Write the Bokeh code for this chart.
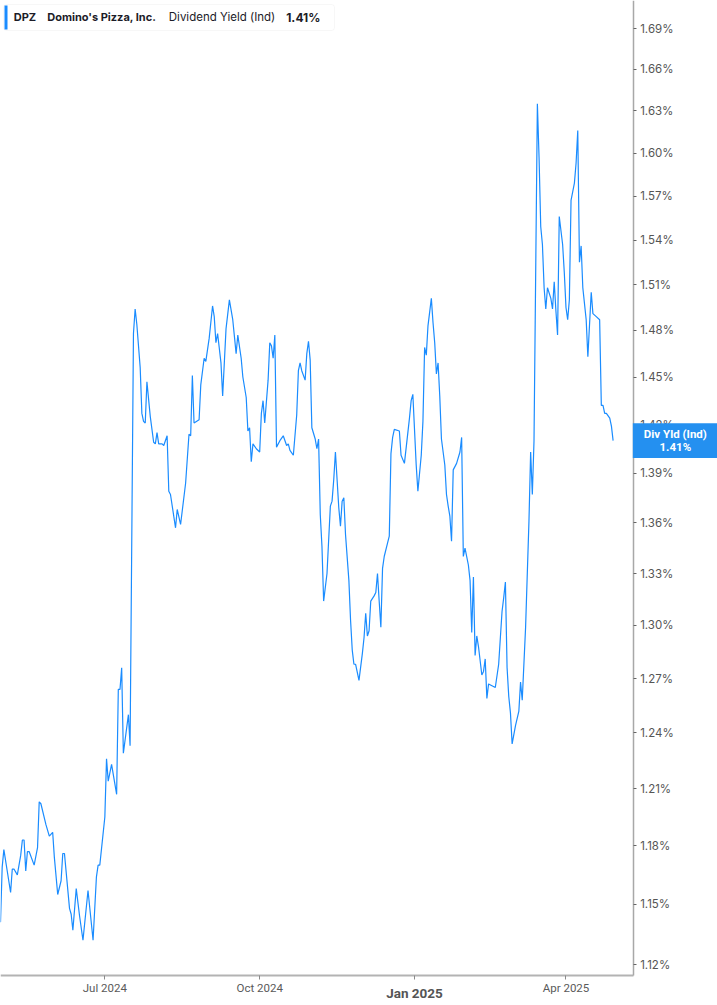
import math
import pandas as pd
from datetime import datetime, timedelta
from bokeh.plotting import figure
from bokeh.models import FixedTicker, Label, BoxAnnotation, Range1d, ColumnDataSource
from bokeh.embed import file_html
from bokeh.resources import INLINE

# ---------------- data ----------------
dates = [
    "2024-04-30", "2024-05-01", "2024-05-02", "2024-05-04", "2024-05-06", "2024-05-07", "2024-05-08",
    "2024-05-10", "2024-05-12", "2024-05-13", "2024-05-14", "2024-05-15", "2024-05-16", "2024-05-17",
    "2024-05-20", "2024-05-22", "2024-05-23", "2024-05-24", "2024-05-27", "2024-05-29", "2024-05-31",
    "2024-06-01", "2024-06-03", "2024-06-05", "2024-06-06", "2024-06-07", "2024-06-10", "2024-06-11",
    "2024-06-12", "2024-06-14", "2024-06-16", "2024-06-18", "2024-06-21", "2024-06-24", "2024-06-26",
    "2024-06-27", "2024-06-28", "2024-07-01", "2024-07-02", "2024-07-03", "2024-07-05", "2024-07-08",
    "2024-07-09", "2024-07-10", "2024-07-11", "2024-07-12", "2024-07-15", "2024-07-16", "2024-07-18",
    "2024-07-19", "2024-07-20", "2024-07-22", "2024-07-23", "2024-07-24", "2024-07-25", "2024-07-26",
    "2024-07-28", "2024-07-30", "2024-07-31", "2024-08-01", "2024-08-02", "2024-08-04", "2024-08-05",
    "2024-08-07", "2024-08-08", "2024-08-09", "2024-08-12", "2024-08-13", "2024-08-15", "2024-08-18",
    "2024-08-20", "2024-08-21", "2024-08-22", "2024-08-23", "2024-08-26", "2024-08-27", "2024-08-29",
    "2024-08-30", "2024-09-01", "2024-09-03", "2024-09-04", "2024-09-05", "2024-09-06", "2024-09-08",
    "2024-09-09", "2024-09-11", "2024-09-13", "2024-09-15", "2024-09-16", "2024-09-17", "2024-09-18",
    "2024-09-20", "2024-09-21", "2024-09-23", "2024-09-24", "2024-09-25", "2024-09-26", "2024-09-27",
    "2024-09-29", "2024-10-01", "2024-10-02", "2024-10-03", "2024-10-04", "2024-10-06", "2024-10-07",
    "2024-10-08", "2024-10-09", "2024-10-10", "2024-10-11", "2024-10-13", "2024-10-15", "2024-10-17",
    "2024-10-18", "2024-10-19", "2024-10-21", "2024-10-23", "2024-10-24", "2024-10-25", "2024-10-26",
    "2024-10-28", "2024-10-29", "2024-10-30", "2024-10-31", "2024-11-01", "2024-11-03", "2024-11-04",
    "2024-11-05", "2024-11-06", "2024-11-07", "2024-11-08", "2024-11-10", "2024-11-11", "2024-11-12",
    "2024-11-13", "2024-11-14", "2024-11-15", "2024-11-16", "2024-11-17", "2024-11-18", "2024-11-19",
    "2024-11-20", "2024-11-21", "2024-11-23", "2024-11-24", "2024-11-25", "2024-11-26", "2024-11-27",
    "2024-11-29", "2024-12-01", "2024-12-02", "2024-12-03", "2024-12-04", "2024-12-05", "2024-12-06",
    "2024-12-08", "2024-12-09", "2024-12-10", "2024-12-11", "2024-12-12", "2024-12-13", "2024-12-14",
    "2024-12-16", "2024-12-17", "2024-12-18", "2024-12-19", "2024-12-20", "2024-12-23", "2024-12-24",
    "2024-12-26", "2024-12-29", "2024-12-30", "2024-12-31", "2025-01-02", "2025-01-03", "2025-01-05",
    "2025-01-06", "2025-01-07", "2025-01-08", "2025-01-09", "2025-01-11", "2025-01-12", "2025-01-13",
    "2025-01-14", "2025-01-15", "2025-01-16", "2025-01-17", "2025-01-19", "2025-01-20", "2025-01-21",
    "2025-01-22", "2025-01-23", "2025-01-24", "2025-01-26", "2025-01-28", "2025-01-29", "2025-01-30",
    "2025-01-31", "2025-02-02", "2025-02-03", "2025-02-04", "2025-02-05", "2025-02-06", "2025-02-07",
    "2025-02-08", "2025-02-10", "2025-02-11", "2025-02-12", "2025-02-13", "2025-02-14", "2025-02-16",
    "2025-02-18", "2025-02-20", "2025-02-22", "2025-02-23", "2025-02-24", "2025-02-25", "2025-02-26",
    "2025-02-27", "2025-02-28", "2025-03-02", "2025-03-04", "2025-03-05", "2025-03-06", "2025-03-08",
    "2025-03-10", "2025-03-11", "2025-03-12", "2025-03-13", "2025-03-15", "2025-03-16", "2025-03-17",
    "2025-03-18", "2025-03-19", "2025-03-20", "2025-03-21", "2025-03-23", "2025-03-24", "2025-03-25",
    "2025-03-26", "2025-03-27", "2025-03-28", "2025-03-30", "2025-03-31", "2025-04-01", "2025-04-02",
    "2025-04-03", "2025-04-04", "2025-04-06", "2025-04-07", "2025-04-08", "2025-04-09", "2025-04-10",
    "2025-04-11", "2025-04-13", "2025-04-14", "2025-04-15", "2025-04-16", "2025-04-17", "2025-04-19",
    "2025-04-21", "2025-04-22", "2025-04-23", "2025-04-24", "2025-04-25", "2025-04-27", "2025-04-28",
    "2025-04-29",
]
yield_pct = [
    1.141, 1.169, 1.178, 1.167, 1.156, 1.168, 1.168,
    1.165, 1.175, 1.183, 1.183, 1.167, 1.177, 1.177,
    1.170, 1.179, 1.203, 1.202, 1.191, 1.185, 1.187,
    1.174, 1.155, 1.162, 1.176, 1.176, 1.148, 1.145,
    1.137, 1.158, 1.144, 1.132, 1.157, 1.132, 1.164,
    1.170, 1.170, 1.195, 1.226, 1.214, 1.223, 1.207,
    1.264, 1.264, 1.276, 1.229, 1.250, 1.233, 1.478,
    1.494, 1.484, 1.456, 1.427, 1.422, 1.421, 1.447,
    1.425, 1.409, 1.408, 1.415, 1.408, 1.408, 1.407,
    1.413, 1.379, 1.377, 1.357, 1.368, 1.359, 1.384,
    1.414, 1.413, 1.451, 1.421, 1.423, 1.445, 1.462,
    1.460, 1.475, 1.496, 1.489, 1.472, 1.478, 1.459,
    1.438, 1.481, 1.500, 1.487, 1.476, 1.465, 1.477,
    1.462, 1.450, 1.437, 1.416, 1.418, 1.397, 1.408,
    1.405, 1.403, 1.427, 1.435, 1.421, 1.448, 1.472,
    1.470, 1.462, 1.477, 1.406, 1.410, 1.413, 1.407,
    1.408, 1.404, 1.401, 1.426, 1.454, 1.459, 1.454,
    1.448, 1.465, 1.473, 1.461, 1.418, 1.411, 1.405,
    1.411, 1.365, 1.346, 1.314, 1.330, 1.350, 1.370,
    1.373, 1.386, 1.403, 1.386, 1.369, 1.358, 1.373,
    1.375, 1.353, 1.326, 1.303, 1.286, 1.278, 1.278,
    1.269, 1.284, 1.293, 1.307, 1.294, 1.297, 1.314,
    1.317, 1.319, 1.330, 1.314, 1.299, 1.333, 1.340,
    1.348, 1.352, 1.402, 1.412, 1.417, 1.416, 1.401,
    1.396, 1.424, 1.435, 1.439, 1.395, 1.379, 1.401,
    1.422, 1.469, 1.464, 1.483, 1.501, 1.485, 1.472,
    1.452, 1.459, 1.438, 1.411, 1.395, 1.377, 1.370,
    1.364, 1.349, 1.392, 1.396, 1.403, 1.412, 1.340,
    1.345, 1.335, 1.326, 1.296, 1.328, 1.283, 1.294,
    1.288, 1.272, 1.274, 1.281, 1.259, 1.267, 1.266,
    1.265, 1.278, 1.308, 1.316, 1.325, 1.276, 1.260,
    1.251, 1.234, 1.244, 1.252, 1.268, 1.258, 1.299,
    1.361, 1.403, 1.377, 1.410, 1.635, 1.597, 1.549,
    1.537, 1.508, 1.494, 1.508, 1.501, 1.494, 1.512,
    1.493, 1.477, 1.556, 1.537, 1.518, 1.495, 1.487,
    1.500, 1.567, 1.579, 1.593, 1.616, 1.525, 1.536,
    1.508, 1.487, 1.463, 1.484, 1.505, 1.491, 1.489,
    1.487, 1.432, 1.432, 1.427, 1.427, 1.424, 1.419,
    1.410,
]

x_tick_dates = ["2024-07-01", "2024-10-01", "2025-01-01", "2025-04-01"]
x_tick_labels = ["Jul 2024", "Oct 2024", "Jan 2025", "Apr 2025"]
x_tick_is_year = [False, False, True, False]

y_ticks = [1.12, 1.15, 1.18, 1.21, 1.24, 1.27, 1.30, 1.33, 1.36, 1.39,
           1.42, 1.45, 1.48, 1.51, 1.54, 1.57, 1.60, 1.63, 1.66, 1.69]
y_tick_labels = ["1.12%", "1.15%", "1.18%", "1.21%", "1.24%", "1.27%", "1.30%", "1.33%", "1.36%", "1.39%",
                 "1.42%", "1.45%", "1.48%", "1.51%", "1.54%", "1.57%", "1.60%", "1.63%", "1.66%", "1.69%"]

ticker_symbol = "DPZ"
company = "Domino's Pizza, Inc."
metric = "Dividend Yield (Ind)"
metric_short = "Div Yld (Ind)"

# ---------------- layout / scales ----------------
LINE = "#1a8cff"
BOX = "#2490f0"
W, H = 717, 1005
AX_X, AX_Y = 632.7, 974.7          # where the y axis and x axis lines sit (px)
PX_PER_DAY = 1.683
PX_PER_LOG = 2275.0
REF_V, REF_Y = 1.12, 964.0          # 1.12 % tick position

def ms(d):
    return (pd.Timestamp(d) - pd.Timestamp("1970-01-01")) // pd.Timedelta("1ms")

def v_at(py):
    return REF_V * math.exp((REF_Y - py) / PX_PER_LOG)

x0 = datetime(2024, 4, 30)
x_end = x0 + timedelta(days=W / PX_PER_DAY)
x_axis_pos = x0 + timedelta(days=AX_X / PX_PER_DAY)
x_axis_ms = ms(x_axis_pos)

src = ColumnDataSource(dict(date=pd.to_datetime(dates), value=yield_pct))

p = figure(width=W, height=H, x_axis_type="datetime", y_axis_type="log",
           y_axis_location="right",
           x_range=Range1d(x0, x_end), y_range=Range1d(v_at(H), v_at(0)),
           toolbar_location=None, output_backend="svg",
           min_border_left=0, min_border_top=0, min_border_right=0, min_border_bottom=0)
p.outline_line_color = None
p.xgrid.visible = False
p.ygrid.visible = False
p.background_fill_color = "white"
p.border_fill_color = "white"

p.line(x="date", y="value", source=src, line_color=LINE, line_width=1.2)

# bottom axis (drawn at a fixed location inside the canvas)
xa = p.xaxis[0]
xa.fixed_location = v_at(AX_Y)
xa.bounds = (ms(x0), x_axis_ms)
xa.ticker = FixedTicker(ticks=[ms(d) for d in x_tick_dates], minor_ticks=[])
xa.major_label_overrides = {ms(d): ("" if yr else lab)
                            for d, lab, yr in zip(x_tick_dates, x_tick_labels, x_tick_is_year)}
xa.axis_line_color = "#b3b3b3"
xa.axis_line_width = 2
xa.major_tick_out = 4
xa.major_tick_in = 0
xa.major_tick_line_color = "#8a8a8a"
xa.minor_tick_line_color = None
xa.major_label_text_font = "Roboto"
xa.major_label_text_font_size = "11.5px"
xa.major_label_text_color = "#5a5a5a"
xa.major_label_standoff = 2

# right axis
ya = p.yaxis[0]
ya.fixed_location = x_axis_ms
ya.bounds = (v_at(AX_Y), v_at(0))
ya.ticker = FixedTicker(ticks=y_ticks, minor_ticks=[])
ya.major_label_overrides = {v: lab for v, lab in zip(y_ticks, y_tick_labels)}
ya.axis_line_color = "#a8a8a8"
ya.axis_line_width = 1.5
ya.major_tick_out = 3
ya.major_tick_in = 0
ya.major_tick_line_color = "#666666"
ya.minor_tick_line_color = None
ya.major_label_text_font = "Inter"
ya.major_label_text_font_size = "11.5px"
ya.major_label_text_color = "#555555"
ya.major_label_standoff = 4

# bold year label under its tick
for d, lab, yr in zip(x_tick_dates, x_tick_labels, x_tick_is_year):
    if yr:
        p.add_layout(Label(x=pd.Timestamp(d).to_pydatetime(), y=H - 992.0, x_units="data", y_units="screen",
                           text=lab, text_align="center", text_baseline="alphabetic",
                           text_font="Roboto", text_font_style="bold", text_font_size="13.5px",
                           text_color="#555555"))

# last value tag on the axis
p.add_layout(Label(x=(AX_X + W) / 2, y=yield_pct[-1], x_units="screen", y_units="data",
                   text=f"{metric_short}\n{yield_pct[-1]:.2f}%", text_align="center",
                   text_baseline="middle", text_font="Roboto", text_font_style="bold",
                   text_font_size="11.5px", text_color="white", text_line_height=0.9,
                   background_fill_color=BOX, padding=(11, 4)))

# legend box (top-left)
p.add_layout(BoxAnnotation(left=3, right=334, top=H - 4, bottom=H - 30,
                           left_units="screen", right_units="screen",
                           top_units="screen", bottom_units="screen",
                           fill_color="white", fill_alpha=1.0,
                           line_color="#e3e3e3", line_width=1, border_radius=3))
p.add_layout(BoxAnnotation(left=4, right=7, top=H - 5, bottom=H - 29,
                           left_units="screen", right_units="screen",
                           top_units="screen", bottom_units="screen",
                           fill_color=LINE, fill_alpha=1.0, line_color=None))
legend_parts = [ticker_symbol, company, metric, f"{yield_pct[-1]:.2f}%"]
legend_x = [13.3, 46.7, 168.3, 285.7]
legend_style = ["bold", "bold", "normal", "bold"]
legend_size = ["11px", "11px", "11.5px", "12px"]
for txt, lx, st, sz in zip(legend_parts, legend_x, legend_style, legend_size):
    p.add_layout(Label(x=lx, y=H - 16.5, x_units="screen", y_units="screen", text=txt,
                       text_align="left", text_baseline="middle", text_font="Inter",
                       text_font_style=st, text_font_size=sz, text_color="#1c1c28"))

open("out.html", "w").write(file_html(p, INLINE))
